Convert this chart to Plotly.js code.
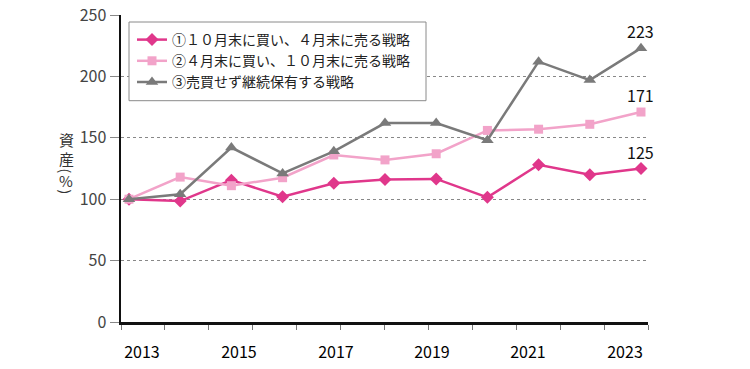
<!DOCTYPE html>
<html>
<head>
<meta charset="utf-8">
<script src="https://cdn.plot.ly/plotly-3.0.1.min.js"></script>
<style>
  html, body { margin: 0; padding: 0; background: #fff; }
  #chart { width: 750px; height: 369px; }
</style>
</head>
<body>
<div id="chart"></div>
<script>
// ---- data ----
const years = [2013, 2014, 2015, 2016, 2017, 2018, 2019, 2020, 2021, 2022, 2023];
const seriesNames = [
  '①１０月末に買い、４月末に売る戦略',
  '②４月末に買い、１０月末に売る戦略',
  '③売買せず継続保有する戦略'
];
const strategy1 = [100, 98.5, 115.5, 102, 113, 116, 116.5, 101.5, 128, 120, 125];
const strategy2 = [100, 118, 111, 117.5, 136, 132, 137, 156, 157, 161, 171];
const strategy3 = [100, 104, 142, 121, 139, 162, 162, 148, 212, 197, 223];
const yearLabels = ['2013', '2015', '2017', '2019', '2021', '2023'];
const endLabels = ['125', '171', '223'];
const yTickVals = [0, 50, 100, 150, 200, 250];

// ---- layout constants ----
const FONT = '"Noto Sans CJK JP", "Noto Sans", sans-serif';
const xRange = [2012.844, 2023.137];
const labelPos = [2013.254, 2015.148, 2017.043, 2018.918, 2020.793, 2022.688];
const minorTicks = [];
for (let k = 0; k <= 12; k++) minorTicks.push(xRange[0] + k * (xRange[1] - xRange[0]) / 12);

const plotTop = 15, plotBottom = 322, plotH = plotBottom - plotTop;
const pxToPaperY = py => (plotBottom - py) / plotH;
const plotLeft = 121, plotW = 527;
const pxToPaperX = px => (px - plotLeft) / plotW;

const traces = [
  { x: years, y: strategy1, name: seriesNames[0], mode: 'lines+markers',
    line: { color: '#E0378B', width: 2.5 },
    marker: { symbol: 'diamond', size: 10, color: '#E0378B' } },
  { x: years, y: strategy2, name: seriesNames[1], mode: 'lines+markers',
    line: { color: '#F2A3C9', width: 2.5 },
    marker: { symbol: 'square', size: 9, color: '#F2A3C9' } },
  { x: years, y: strategy3, name: seriesNames[2], mode: 'lines+markers',
    line: { color: '#7A7A7A', width: 2.5 },
    marker: { symbol: 'triangle-up', size: 11, color: '#7A7A7A' } },
  // invisible trace for year labels axis
  { x: [years[0]], y: [null], xaxis: 'x2', showlegend: false, hoverinfo: 'skip',
    mode: 'markers', marker: { opacity: 0 } }
];

const annotations = [];
const lastVals = [strategy1[10], strategy2[10], strategy3[10]];
lastVals.forEach((v, i) => {
  annotations.push({ x: years[10], y: v, xref: 'x', yref: 'y', text: endLabels[i],
    showarrow: false, yshift: 17, font: { family: FONT, size: 16, color: '#111' } });
});
// vertical y-axis title (upright characters, parentheses turned)
const titleChars = ['資', '産', '(', '%', ')'];
const titleAngles = [0, 0, 90, 0, 90];
const titlePy = [139, 158, 170.5, 180.5, 191.5];
titleChars.forEach((c, i) => {
  annotations.push({ xref: 'paper', yref: 'paper', x: pxToPaperX(66), y: pxToPaperY(titlePy[i]),
    text: c, textangle: titleAngles[i], showarrow: false, xanchor: 'center', yanchor: 'middle',
    borderpad: 0,
    font: { family: FONT, size: titleAngles[i] ? 14 : 15, color: '#333' } });
});

const layout = {
  width: 750, height: 369,
  margin: { l: 121, r: 102, t: 15, b: 47 },
  paper_bgcolor: '#fff', plot_bgcolor: '#fff',
  font: { family: FONT, color: '#222' },
  showlegend: true,
  legend: {
    x: pxToPaperX(132), y: pxToPaperY(24), xanchor: 'left', yanchor: 'top',
    bgcolor: 'rgba(0,0,0,0)', borderwidth: 0,
    font: { family: FONT, size: 14, color: '#222' }, tracegroupgap: 0
  },
  xaxis: {
    range: xRange, tickmode: 'array', tickvals: minorTicks, ticktext: minorTicks.map(() => ''),
    ticks: 'outside', ticklen: 5, tickcolor: '#777', tickwidth: 1,
    showline: true, linecolor: '#111', linewidth: 2.5, showgrid: false, zeroline: false,
    fixedrange: true
  },
  xaxis2: {
    overlaying: 'x', anchor: 'y', side: 'bottom', range: xRange,
    tickmode: 'array', tickvals: labelPos, ticktext: yearLabels,
    ticks: '', ticklabelstandoff: 19, showline: false, showgrid: false, zeroline: false,
    tickfont: { family: FONT, size: 16, color: '#000' }
  },
  yaxis: {
    range: [0, 250], tickmode: 'array', tickvals: yTickVals,
    ticks: 'outside', ticklen: 9, tickcolor: '#888', tickwidth: 1,
    showline: true, linecolor: '#111', linewidth: 2.5,
    showgrid: true, gridcolor: '#888', griddash: 'dot', gridwidth: 1, zeroline: false,
    tickfont: { family: FONT, size: 16, color: '#444' }
  },
  shapes: [{
    type: 'rect', xref: 'paper', yref: 'paper', layer: 'above',
    x0: pxToPaperX(129), x1: pxToPaperX(426), y0: pxToPaperY(100.7), y1: pxToPaperY(22),
    line: { color: '#8a8a8a', width: 1 }, fillcolor: '#fff'
  }],
  annotations: annotations
};

Plotly.newPlot('chart', traces, layout, { displayModeBar: false, staticPlot: true });
</script>
</body>
</html>
